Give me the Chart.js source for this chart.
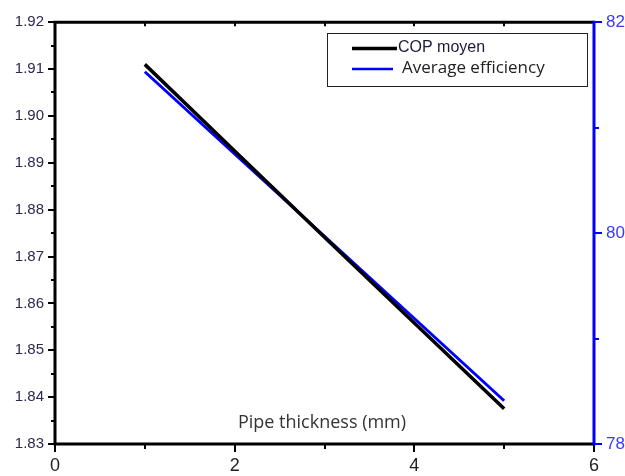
<!DOCTYPE html>
<html>
<head>
<meta charset="utf-8">
<script src="https://cdn.jsdelivr.net/npm/chart.js@4/dist/chart.umd.min.js"></script>
<style>
html,body{margin:0;padding:0;background:#fff;}
#wrap{width:625px;height:476px;position:relative;}
</style>
</head>
<body>
<div id="wrap"><canvas id="c" width="625" height="476"></canvas></div>
<script>
// ---- data ----
const thickness = [1, 2, 3, 4, 5];
const copMoyen = [1.911, 1.8925, 1.8741, 1.8558, 1.8375];
const avgEfficiency = [81.53, 80.75, 79.97, 79.19, 78.41];
const xTickValues = [0, 1, 2, 3, 4, 5, 6];
const xTickLabels = ['0', '', '2', '', '4', '', '6'];
const leftMajorTicks = [1.83, 1.84, 1.85, 1.86, 1.87, 1.88, 1.89, 1.90, 1.91, 1.92];
const leftMinorTicks = [1.835, 1.845, 1.855, 1.865, 1.875, 1.885, 1.895, 1.905, 1.915];
const rightMajorTicks = [78, 80, 82];
const rightMinorTicks = [79, 81];
const seriesNames = ['COP moyen', 'Average efficiency'];
const xTitle = 'Pipe thickness (mm)';

const BLUE = '#0000ff';

const framePlugin = {
  id: 'frame',
  afterDraw(chart) {
    const ctx = chart.ctx;
    const a = chart.chartArea;
    const xs = chart.scales.x, ys = chart.scales.y, y2 = chart.scales.y2;
    ctx.save();
    ctx.lineCap = 'butt';
    // ticks
    ctx.strokeStyle = '#000';
    ctx.lineWidth = 2;
    xTickValues.forEach((v, i) => {
      const px = Math.round(xs.getPixelForValue(v));
      const len = (i % 2 === 0) ? 8 : 5;
      ctx.beginPath(); ctx.moveTo(px, a.bottom); ctx.lineTo(px, a.bottom + len); ctx.stroke();
      ctx.beginPath(); ctx.moveTo(px, a.top); ctx.lineTo(px, a.top + 4); ctx.stroke();
    });
    leftMajorTicks.forEach(v => {
      const py = Math.round(ys.getPixelForValue(v));
      ctx.beginPath(); ctx.moveTo(a.left, py); ctx.lineTo(a.left - 7, py); ctx.stroke();
    });
    leftMinorTicks.forEach(v => {
      const py = Math.round(ys.getPixelForValue(v));
      ctx.beginPath(); ctx.moveTo(a.left, py); ctx.lineTo(a.left - 4, py); ctx.stroke();
    });
    ctx.strokeStyle = BLUE;
    rightMajorTicks.forEach(v => {
      const py = Math.round(y2.getPixelForValue(v));
      ctx.beginPath(); ctx.moveTo(a.right, py); ctx.lineTo(a.right + 8, py); ctx.stroke();
    });
    rightMinorTicks.forEach(v => {
      const py = Math.round(y2.getPixelForValue(v));
      ctx.beginPath(); ctx.moveTo(a.right, py); ctx.lineTo(a.right + 5, py); ctx.stroke();
    });
    // frame
    ctx.lineWidth = 3;
    ctx.strokeStyle = '#000';
    ctx.beginPath();
    ctx.moveTo(a.right, a.top); ctx.lineTo(a.left, a.top); ctx.lineTo(a.left, a.bottom); ctx.lineTo(a.right, a.bottom);
    ctx.stroke();
    ctx.strokeStyle = BLUE;
    ctx.beginPath(); ctx.moveTo(a.right, a.top - 1.5); ctx.lineTo(a.right, a.bottom + 1.5); ctx.stroke();

    // axis title inside plot
    ctx.fillStyle = '#333';
    ctx.font = '18px "Open Sans"';
    ctx.textAlign = 'center';
    ctx.textBaseline = 'middle';
    ctx.fillText(xTitle, 322, 423);

    // legend box
    ctx.lineWidth = 1;
    ctx.strokeStyle = '#222';
    ctx.strokeRect(327.5, 33.5, 260, 53);
    ctx.lineWidth = 3.5;
    ctx.strokeStyle = '#000';
    ctx.beginPath(); ctx.moveTo(352, 48.5); ctx.lineTo(397, 48.5); ctx.stroke();
    ctx.lineWidth = 2.5;
    ctx.strokeStyle = BLUE;
    ctx.beginPath(); ctx.moveTo(352, 69); ctx.lineTo(393, 69); ctx.stroke();
    ctx.textAlign = 'left';
    ctx.fillStyle = '#1a1a3a';
    ctx.font = '16px "Liberation Sans"';
    ctx.fillText(seriesNames[0], 398, 48);
    ctx.fillStyle = '#222';
    ctx.font = '17px "Open Sans"';
    ctx.fillText(seriesNames[1], 402, 68);
    ctx.restore();
  }
};

new Chart(document.getElementById('c'), {
  type: 'line',
  data: {
    datasets: [
      {
        label: seriesNames[0],
        data: thickness.map((x, i) => ({x: x, y: copMoyen[i]})),
        borderColor: '#000',
        borderWidth: 3.5,
        pointRadius: 0,
        yAxisID: 'y',
        tension: 0
      },
      {
        label: seriesNames[1],
        data: thickness.map((x, i) => ({x: x, y: avgEfficiency[i]})),
        borderColor: BLUE,
        borderWidth: 3,
        pointRadius: 0,
        yAxisID: 'y2',
        tension: 0
      }
    ]
  },
  options: {
    responsive: false,
    animation: false,
    layout: {padding: {top: 20, left: 0, right: 0, bottom: 0}},
    plugins: {legend: {display: false}, tooltip: {enabled: false}},
    scales: {
      x: {
        type: 'linear', min: 0, max: 6,
        afterBuildTicks(s) { s.ticks = xTickValues.map(v => ({value: v})); },
        afterFit(s) { s.height = 32; },
        grid: {display: false, drawTicks: false},
        border: {display: false},
        ticks: {
          padding: 11,
          color: '#222',
          font: {family: '"Liberation Sans Narrow", "Liberation Sans"', size: 18},
          callback: (v, i) => xTickLabels[i]
        }
      },
      y: {
        type: 'linear', position: 'left', min: 1.83, max: 1.92,
        afterBuildTicks(s) { s.ticks = leftMajorTicks.map(v => ({value: v})); },
        afterFit(s) { s.width = 55; },
        grid: {display: false, drawTicks: false},
        border: {display: false},
        ticks: {
          padding: 11,
          color: '#2e2850',
          font: {family: '"Liberation Sans"', size: 15},
          callback: v => Number(v).toFixed(2)
        }
      },
      y2: {
        type: 'linear', position: 'right', min: 78, max: 82,
        afterBuildTicks(s) { s.ticks = rightMajorTicks.map(v => ({value: v})); },
        afterFit(s) { s.width = 31; },
        grid: {display: false, drawTicks: false},
        border: {display: false},
        ticks: {
          padding: 12,
          color: '#3a3aff',
          font: {family: '"Liberation Sans Narrow", "Liberation Sans"', size: 17},
          callback: v => String(v)
        }
      }
    }
  },
  plugins: [framePlugin]
});
</script>
</body>
</html>
